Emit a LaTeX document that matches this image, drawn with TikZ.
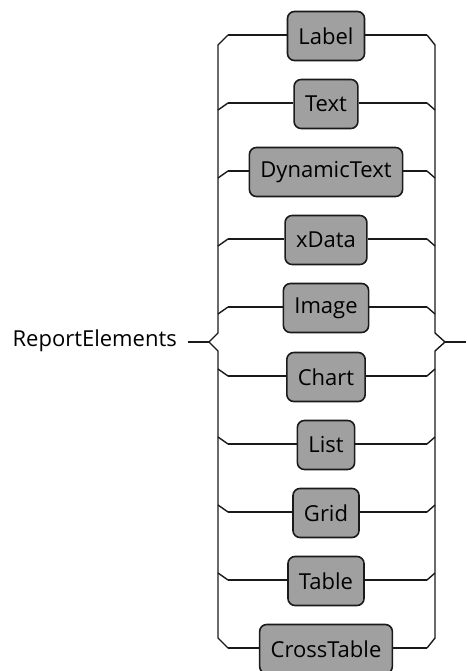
\documentclass[tikz,border=0pt]{standalone}
\usepackage{fontspec}
\setmainfont{Open Sans}
\definecolor{boxfill}{HTML}{A0A0A0}
\definecolor{linec}{HTML}{1A1A1A}
\begin{document}
\begin{tikzpicture}[x=1pt,y=-1pt,
  elem/.style={draw=linec,fill=boxfill,line width=1.6pt,rounded corners=7pt,
    inner xsep=11pt,inner ysep=0pt,minimum height=49pt,
    font=\fontsize{22}{26}\selectfont,text=black,anchor=center},
  wire/.style={draw=linec,line width=1.4pt},
  lbl/.style={font=\fontsize{22}{26}\selectfont,text=black,anchor=east,inner sep=0pt}]
\useasboundingbox (0,0) rectangle (466,671);
% rows
\foreach \n/\t/\yy in {0/Label/35,1/Text/103,2/DynamicText/171,3/xData/239,4/Image/307,
  5/Chart/376,6/List/444,7/Grid/512,8/Table/580,9/CrossTable/648}{
  \node[elem] (e\n) at (326,\yy+1) {\t};
  \coordinate (a\n) at (228,\yy);
  \coordinate (b\n) at (427,\yy);
  \draw[wire] (a\n) -- (a\n -| e\n.west);
  \draw[wire] (b\n -| e\n.east) -- (b\n);
}
% label and main line
\node[lbl] (re) at (177,341) {ReportElements};
\coordinate (in) at (188,342);
\coordinate (lp) at (209,342);
\coordinate (rp) at (445,342);
\coordinate (out) at (466,342);
\draw[wire] (in) -- (lp);
\draw[wire] (rp) -- (out);
% bars
\draw[wire] (a0) -- (218,45) -- (218,333) -- (lp) -- (218,351) -- (218,638) -- (a9);
\draw[wire] (b0) -- (435,45) -- (435,333) -- (rp) -- (435,351) -- (435,638) -- (b9);
% intermediate joins
\foreach \n/\yy in {1/103,2/171,3/239,4/307}{
  \draw[wire] (218,\yy+7) -- (a\n);
  \draw[wire] (b\n) -- (435,\yy+7);
}
\foreach \n/\yy in {5/376,6/444,7/512,8/580}{
  \draw[wire] (218,\yy-7) -- (a\n);
  \draw[wire] (b\n) -- (435,\yy-7);
}
\end{tikzpicture}
\end{document}
